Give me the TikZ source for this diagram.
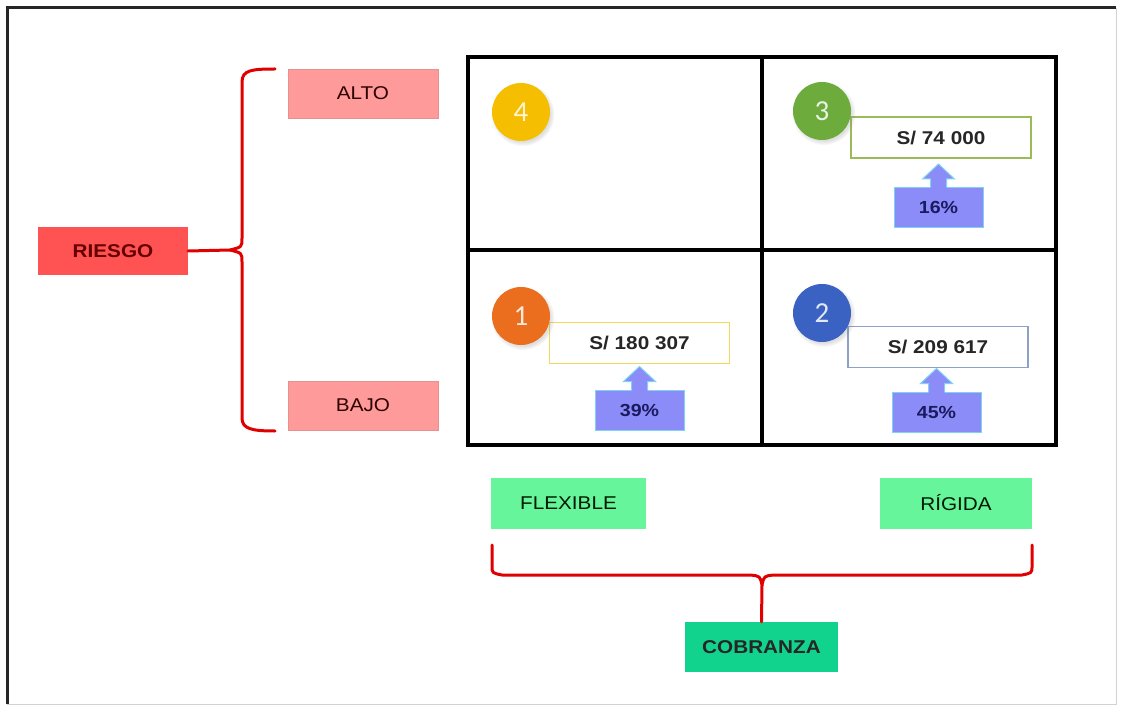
\documentclass[tikz,border=0pt]{standalone}
\usepackage{fontspec}
\setmainfont[FakeStretch=1.12]{Liberation Sans}
\newfontfamily\digitfont{Carlito}
\usetikzlibrary{calc,shadows}

\definecolor{bracered}{HTML}{E00000}
\definecolor{levelpink}{HTML}{FF9A9A}
\definecolor{levelpinkedge}{HTML}{E89090}
\definecolor{riskred}{HTML}{FF5252}
\definecolor{lightgreen}{HTML}{66F59A}
\definecolor{cobgreen}{HTML}{12D38E}
\definecolor{pctfill}{HTML}{8C8CF8}
\definecolor{pctedge}{HTML}{7ED3F0}
\definecolor{pcttext}{HTML}{1A1A60}
\definecolor{cyellow}{HTML}{F6BE00}
\definecolor{cgreen}{HTML}{6CAB3C}
\definecolor{corange}{HTML}{EA6E1E}
\definecolor{cblue}{HTML}{3A62C2}
\definecolor{vyellow}{HTML}{F2D85C}
\definecolor{vgreen}{HTML}{9BBB59}
\definecolor{vblue}{HTML}{8EA0C8}

% percentage callout: body node plus an upward arrow on its top edge
\newcommand\pctcallout[3]{%
  \node[pctbody] (#1) at (#2) {#3};
  \fill[pctfill] ([shift={(-8pt,-1.5pt)}]#1.north) -- ([shift={(-8pt,8pt)}]#1.north)
    -- ([shift={(-16pt,8pt)}]#1.north) -- ([shift={(0pt,23pt)}]#1.north)
    -- ([shift={(16pt,8pt)}]#1.north) -- ([shift={(8pt,8pt)}]#1.north)
    -- ([shift={(8pt,-1.5pt)}]#1.north) -- cycle;
  \draw[pctedge, line width=1pt] ([shift={(-8pt,0pt)}]#1.north) -- ([shift={(-8pt,8pt)}]#1.north)
    -- ([shift={(-16pt,8pt)}]#1.north) -- ([shift={(0pt,23pt)}]#1.north)
    -- ([shift={(16pt,8pt)}]#1.north) -- ([shift={(8pt,8pt)}]#1.north)
    -- ([shift={(8pt,0pt)}]#1.north);
}

\tikzset{
  level/.style={fill=levelpink, draw=levelpinkedge, line width=0.8pt,
    minimum width=150pt, minimum height=49pt, inner sep=0pt,
    text=black!70!red!60!black, font=\fontsize{18.5}{21}\selectfont},
  risk/.style={fill=riskred, minimum width=150pt, minimum height=48pt, inner sep=0pt,
    text=red!40!black, font=\fontsize{18.5}{21}\selectfont\bfseries},
  mode/.style={fill=lightgreen, minimum height=51pt, inner sep=0pt,
    text=black!75!green!40!black, font=\fontsize{18.5}{21}\selectfont},
  axisname/.style={fill=cobgreen, minimum width=153pt, minimum height=50pt, inner sep=0pt,
    text=black!85, font=\fontsize{18.5}{21}\selectfont\bfseries},
  valbox/.style={fill=white, draw=#1, line width=1.1pt, minimum width=180pt,
    minimum height=41pt, inner sep=0pt, text=black!85, font=\fontsize{18.5}{21}\selectfont\bfseries},
  pctbody/.style={fill=pctfill, draw=pctedge, line width=1pt, minimum width=89pt,
    minimum height=40pt, inner sep=0pt, text=pcttext, font=\fontsize{17.5}{20}\selectfont\bfseries},
  quad/.style={circle, fill=#1, minimum size=58pt, inner sep=0pt,
    circular drop shadow={shadow xshift=1.5pt, shadow yshift=-2pt, opacity=0.25},
    text=white!85!#1, font=\digitfont\fontsize{29}{31}\selectfont},
  gridline/.style={line width=3.5pt, black},
  bracestroke/.style={bracered, line width=3pt, line cap=round, line join=round},
}

\begin{document}
\begin{tikzpicture}[x=1pt, y=-1pt]
  \useasboundingbox (0,0) rectangle (1124,711);
  \fill[white] (0,0) rectangle (1124,711);

  % frame
  \draw[gray!35, line width=1pt] (1116,8) -- (1116,704) -- (7,704);
  \draw[black!85, line width=3pt] (7,704) -- (7,8) -- (1116,8);

  % quadrant grid
  \draw[gridline] (468,57) rectangle (1056,445);
  \draw[gridline] (762,57) -- (762,445);
  \draw[gridline] (468,250) -- (1056,250);

  % risk axis
  \node[level] (alto) at (363,93.5) {ALTO};
  \node[level] (bajo) at (363,405.5) {BAJO};
  \node[risk] (riesgo) at (113,251) {RIESGO};

  \coordinate (ltop) at (275,69);
  \coordinate (lcusp) at (230,250);
  \coordinate (lbot) at (275,431);
  \draw[bracestroke] (ltop) .. controls (252,69) and (242,70) .. (242,82)
    -- (242,238) .. controls (242,247) .. (lcusp)
    .. controls (242,253) .. (242,262)
    -- (242,418) .. controls (242,429) and (252,431) .. (lbot);
  \draw[bracestroke] (riesgo.east) -- (lcusp);

  % collection axis
  \node[mode, minimum width=155pt] (flexible) at (568.5,503) {FLEXIBLE};
  \node[mode, minimum width=152pt] (rigida) at (956,503) {RÍGIDA};
  \node[axisname] (cobranza) at (761.5,647) {COBRANZA};

  \coordinate (bleft) at (492,545);
  \coordinate (bcusp) at (762,585);
  \coordinate (bright) at (1032,545);
  \draw[bracestroke] (bleft) -- (492,566) .. controls (492,573) .. (502,575)
    -- (750,575) .. controls (760,576) .. (bcusp)
    .. controls (764,576) .. (774,575)
    -- (1022,575) .. controls (1032,573) .. (1032,566) -- (bright);
  \draw[bracestroke] (bcusp) -- (cobranza.north);

  % amounts per quadrant
  \node[valbox=vgreen] (v3) at (941,137.5) {S/ 74 000};
  \node[valbox=vyellow] (v1) at (639.5,343) {S/ 180 307};
  \node[valbox=vblue] (v2) at (938,347) {S/ 209 617};

  % shares per quadrant
  \pctcallout{p3}{938.5,207.5}{16\%}
  \pctcallout{p1}{639.5,410}{39\%}
  \pctcallout{p2}{936.5,412}{45\%}

  % quadrant numbers
  \node[quad=cyellow] (c4) at (521,112) {4};
  \node[quad=cgreen] (c3) at (822,111) {3};
  \node[quad=corange] (c1) at (521,316) {1};
  \node[quad=cblue] (c2) at (822,313) {2};
\end{tikzpicture}
\end{document}
